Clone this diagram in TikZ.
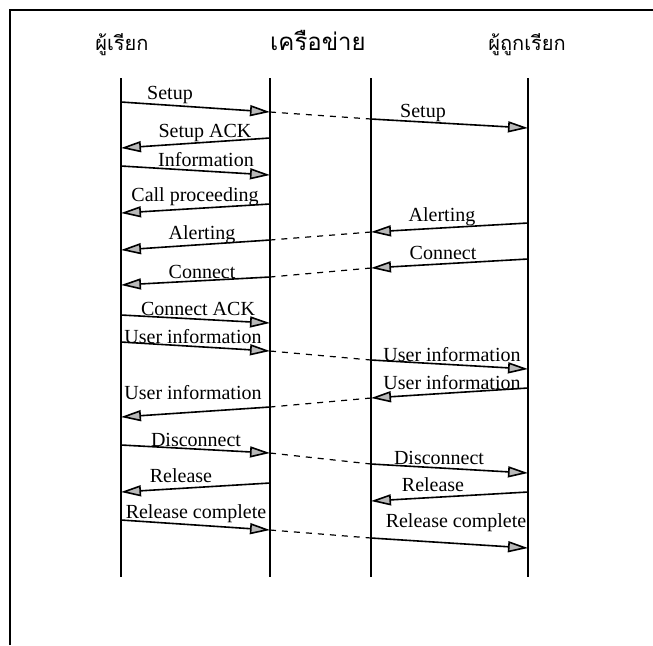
\documentclass[tikz,border=0pt]{standalone}
\usepackage{fontspec}
\setmainfont{Liberation Serif}
\newfontfamily\thaifont[Script=Thai]{Loma}
\usepackage{tikz}
\usetikzlibrary{arrows.meta}

\begin{document}
\begin{tikzpicture}[x=0.5pt,y=-0.5pt,
  msg/.style={line width=0.8pt,-{Triangle[length=10pt,width=5.5pt,fill=gray!55]}},
  fwd/.style={line width=0.6pt,dash pattern=on 3pt off 3pt},
  lbl/.style={inner sep=0pt,font=\fontsize{10}{12}\selectfont},
  hdr/.style={inner sep=0pt,font=\thaifont\fontsize{10}{12}\selectfont}]
  \useasboundingbox (0,0) rectangle (653,645);
  \draw[line width=1pt] (10,645) -- (10,10) -- (653,10);
  % lifelines
  \foreach \n/\x in {A/121,B/270,C/371,D/528} {
    \coordinate (\n top) at (\x,78);
    \coordinate (\n bot) at (\x,577);
    \draw[line width=0.6pt] (\n top) -- (\n bot);
  }
  \node[hdr] (caller) at (122,45) {ผู้เรียก};
  \node[hdr,font=\thaifont\fontsize{12}{14}\selectfont] (network) at (318,40) {เครือข่าย};
  \node[hdr] (callee) at (527,45) {ผู้ถูกเรียก};
  % messages
  \foreach \i/\f/\ys/\t/\ye/\lx/\ly/\txt in {
      1/A/102/B/112/170/95/Setup,
      2/C/119/D/128/423/113/Setup,
      3/B/138/A/148/205/133/Setup ACK,
      4/A/166/B/175/206/160/Information,
      5/B/204/A/213/195/197/Call proceeding,
      6/D/223/C/232/442/217/Alerting,
      7/B/240/A/250/202/235/Alerting,
      8/D/259/C/268/443/253/Connect,
      9/B/277/A/285/202/272/Connect,
      10/A/315/B/323/198/309/Connect ACK,
      11/A/342/B/351/193/337/User information,
      12/C/360/D/369/452/355/User information,
      13/D/388/C/398/452/383/User information,
      14/B/407/A/417/193/393/User information,
      15/A/445/B/453/196/440/Disconnect,
      16/C/464/D/473/439/458/Disconnect,
      17/D/492/C/501/433/485/Release,
      18/B/483/A/492/181/476/Release,
      19/A/520/B/530/196/514/Release complete,
      20/C/538/D/548/456/523/Release complete} {
    \coordinate (m\i s) at (\f top |- 0,\ys);
    \coordinate (m\i e) at (\t top |- 0,\ye);
    \draw[msg] (m\i s) -- (m\i e);
    \node[lbl] (l\i) at (\lx,\ly) {\txt};
  }
  % passed on through the network
  \foreach \a/\b in {1/2,6/7,8/9,11/12,13/14,15/16,19/20}
    \draw[fwd] (m\a e) -- (m\b s);
\end{tikzpicture}
\end{document}
